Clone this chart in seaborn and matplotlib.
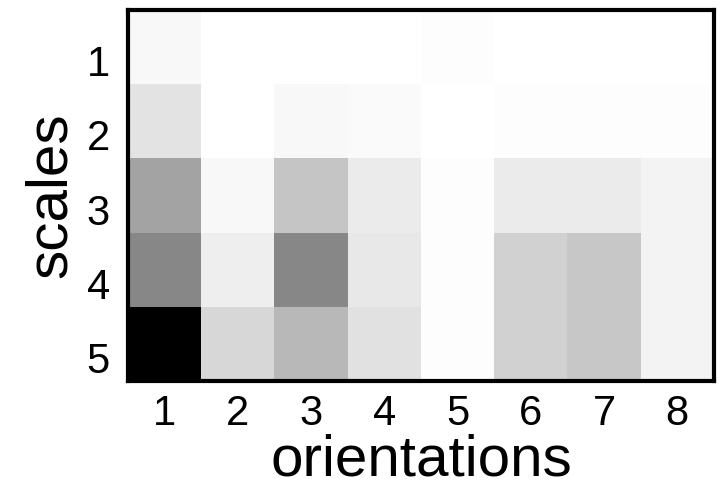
import numpy as np
import pandas as pd
import matplotlib
matplotlib.use("Agg")
import matplotlib.pyplot as plt
import matplotlib.transforms as mtransforms
import seaborn as sns

scales = ["1", "2", "3", "4", "5"]
orientations = ["1", "2", "3", "4", "5", "6", "7", "8"]

# darkness values (0 = white, 1 = black)
row1 = [0.03, 0.00, 0.00, 0.00, 0.01, 0.00, 0.00, 0.00]
row2 = [0.11, 0.00, 0.03, 0.02, 0.00, 0.01, 0.01, 0.01]
row3 = [0.36, 0.03, 0.23, 0.08, 0.01, 0.08, 0.08, 0.05]
row4 = [0.47, 0.07, 0.47, 0.09, 0.01, 0.18, 0.22, 0.05]
row5 = [1.00, 0.16, 0.28, 0.12, 0.01, 0.18, 0.22, 0.05]

df = pd.DataFrame([row1, row2, row3, row4, row5], index=scales, columns=orientations)

sns.set_theme(style="white")
plt.rcParams["font.family"] = ["Liberation Sans", "DejaVu Sans"]

fig = plt.figure(figsize=(7.27, 4.95), dpi=100)
ax = fig.add_axes([0.176, 0.230, 0.806, 0.750])
sns.heatmap(df, cmap="gray_r", vmin=0, vmax=1, cbar=False, ax=ax)

for s in ax.spines.values():
    s.set_visible(True)
    s.set_color("black")
    s.set_linewidth(3)

ax.tick_params(axis="y", length=0, labelsize=30, colors="black", pad=13)
ax.tick_params(axis="x", length=0, labelsize=30, colors="black", pad=9)
ax.set_yticklabels(scales, rotation=0)
ax.set_xticklabels(orientations, rotation=0)
ax.set_xlabel("orientations", fontsize=42, color="black", labelpad=0)
ax.set_ylabel("scales", fontsize=42, color="black", labelpad=6)

# y tick labels sit slightly below the cell centres in the reference
offset = mtransforms.ScaledTranslation(0, -0.18, fig.dpi_scale_trans)
for lab in ax.get_yticklabels():
    lab.set_transform(lab.get_transform() + offset)

fig.savefig("out.png", dpi=100)
